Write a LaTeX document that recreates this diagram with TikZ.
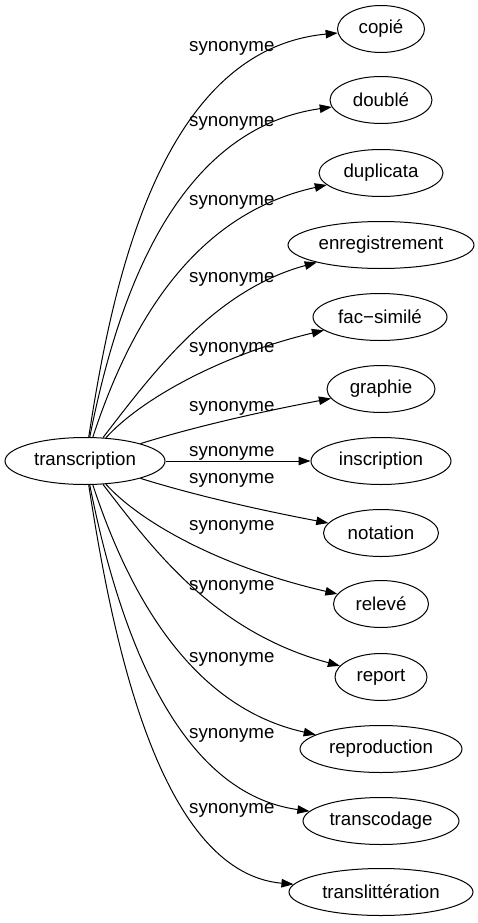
\documentclass[tikz,border=0pt]{standalone}
\usepackage{fontspec}
\setmainfont{Liberation Sans}
\usetikzlibrary{shapes.geometric,arrows.meta}
\begin{document}
\begin{tikzpicture}[x=1pt,y=-1pt,
  every node/.style={font=\fontsize{18.7}{22}\selectfont},
  word/.style={ellipse, draw, line width=1pt, inner sep=0pt, minimum height=47pt},
  rel/.style={-{Triangle[length=12pt,width=8.5pt]}, line width=1pt},
  lab/.style={anchor=base west, inner sep=0pt}]
\useasboundingbox (0,0) rectangle (477,923);
% nodes
\node[word, minimum width=160pt] (tr) at (85,461) {transcription};
\node[word, minimum width=87pt]  (n1)  at (381,29)  {copié};
\node[word, minimum width=102pt] (n2)  at (381,100) {doublé};
\node[word, minimum width=124pt] (n3)  at (381,173) {duplicata};
\node[word, minimum width=186pt] (n4)  at (381,245) {enregistrement};
\node[word, minimum width=134pt] (n5)  at (380,317) {fac−similé};
\node[word, minimum width=108pt] (n6)  at (381,389) {graphie};
\node[word, minimum width=140pt] (n7)  at (381,461) {inscription};
\node[word, minimum width=115pt] (n8)  at (381,533) {notation};
\node[word, minimum width=95pt]  (n9)  at (381,604) {relevé};
\node[word, minimum width=92pt]  (n10) at (381,677) {report};
\node[word, minimum width=162pt] (n11) at (381,749) {reproduction};
\node[word, minimum width=156pt] (n12) at (381,821) {transcodage};
\node[word, minimum width=184pt] (n13) at (381,892) {translittération};
% labels
\node[lab] (l1)  at (189,52)  {synonyme};
\node[lab] (l2)  at (189,127) {synonyme};
\node[lab] (l3)  at (189,205) {synonyme};
\node[lab] (l4)  at (189,282) {synonyme};
\node[lab] (l5)  at (189,352) {synonyme};
\node[lab] (l6)  at (189,411) {synonyme};
\node[lab] (l7)  at (189,456) {synonyme};
\node[lab] (l8)  at (189,483) {synonyme};
\node[lab] (l9)  at (189,530) {synonyme};
\node[lab] (l10) at (189,590) {synonyme};
\node[lab] (l11) at (189,662) {synonyme};
\node[lab] (l12) at (189,738) {synonyme};
\node[lab] (l13) at (189,813) {synonyme};
% edges
\draw[rel] (tr) .. controls (110,300) and (155,50)  .. (n1);
\draw[rel] (tr) .. controls (115,310) and (170,130) .. (n2);
\draw[rel] (tr) .. controls (128,330) and (190,215) .. (n3);
\draw[rel] (tr) .. controls (155,370) and (215,290) .. (n4);
\draw[rel] (tr) .. controls (140,400) and (220,355) .. (n5);
\draw[rel] (tr) .. controls (200,425) and (270,410) .. (n6);
\draw[rel] (tr) -- (n7);
\draw[rel] (tr) .. controls (200,497) and (270,512) .. (n8);
\draw[rel] (tr) .. controls (140,522) and (220,567) .. (n9);
\draw[rel] (tr) .. controls (155,552) and (215,632) .. (n10);
\draw[rel] (tr) .. controls (128,592) and (190,707) .. (n11);
\draw[rel] (tr) .. controls (115,612) and (170,792) .. (n12);
\draw[rel] (tr) .. controls (110,622) and (155,872) .. (n13);
\end{tikzpicture}
\end{document}
